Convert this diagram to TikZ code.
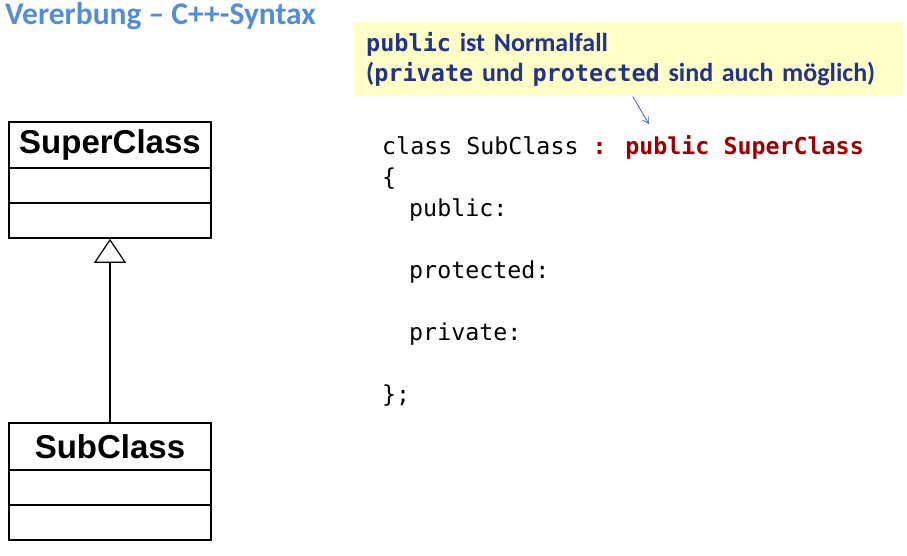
\documentclass[tikz,border=0pt]{standalone}
\usepackage{fontspec}
\usetikzlibrary{positioning,arrows.meta}
\newfontfamily\calfont{Carlito}
\newfontfamily\codefont{DejaVu Sans Mono}
\newfontfamily\umlfont{Liberation Sans}
\definecolor{titleblue}{RGB}{84,141,212}
\definecolor{noteyellow}{RGB}{255,255,200}
\definecolor{notetext}{RGB}{35,50,140}
\definecolor{codered}{RGB}{155,0,0}
\definecolor{hintblue}{RGB}{60,80,180}

\begin{document}
\begin{tikzpicture}
  [x=1pt,y=-1pt,
   classHead/.style={draw,line width=1.6pt,minimum width=202pt,minimum height=46pt,inner sep=0pt,
                     font=\umlfont\bfseries\fontsize{33}{33}\selectfont},
   classPart/.style={draw,line width=1.6pt,minimum width=202pt,minimum height=35pt,inner sep=0pt},
   codeLine/.style={anchor=base west,inner sep=0pt,font=\codefont\fontsize{23.3}{31}\selectfont}]

  \useasboundingbox (0,0) rectangle (907,555);

  \node[anchor=base west,inner sep=0pt,text=titleblue,font=\calfont\bfseries\fontsize{31.5}{31.5}\selectfont]
    (title) at (5,24) {Vererbung – C++-Syntax};

  % UML classes
  \node[classHead] (superHead) at (110,145) {SuperClass};
  \node[classPart,below=-1.6pt of superHead] (superA) {};
  \node[classPart,below=-1.6pt of superA]    (superB) {};

  \node[classHead,minimum height=47pt] (subHead) at (110,446.5) {SubClass};
  \node[classPart,below=-1.6pt of subHead] (subA) {};
  \node[classPart,below=-1.6pt of subA]    (subB) {};

  \draw [line width=1.2pt,-{Triangle[open,length=24pt,width=32pt,line width=1.2pt]}]
    (subHead.north) -- (superB.south);

  % hint box
  \node[anchor=north west,fill=noteyellow,minimum width=549pt,minimum height=74pt,
        inner xsep=12pt,text width=525pt,align=left,text=notetext,
        font=\calfont\bfseries\fontsize{26}{30}\selectfont]
    (note) at (354,22)
    {{\codefont\fontsize{23.5}{30}\selectfont public} ist Normalfall\\
     ({\codefont\fontsize{23.5}{30}\selectfont private} und
      {\codefont\fontsize{23.5}{30}\selectfont protected} sind auch möglich)};

  % C++ code
  \node[codeLine] (cls)    at (382,154) {class SubClass \textcolor{codered}{\bfseries : public SuperClass}};
  \node[codeLine] (lbrace) at (382,185) {\{};
  \node[codeLine] (pub)    at (409,216) {public:};
  \node[codeLine] (prot)   at (409,278) {protected:};
  \node[codeLine] (priv)   at (409,340) {private:};
  \node[codeLine] (rbrace) at (382,402) {\};};

  \coordinate (hintTip) at (649,124);
  \draw [hintblue,line width=0.7pt,-{Straight Barb[length=6pt,width=7pt]}]
    ([xshift=4pt]note.south) -- (hintTip);

\end{tikzpicture}
\end{document}
